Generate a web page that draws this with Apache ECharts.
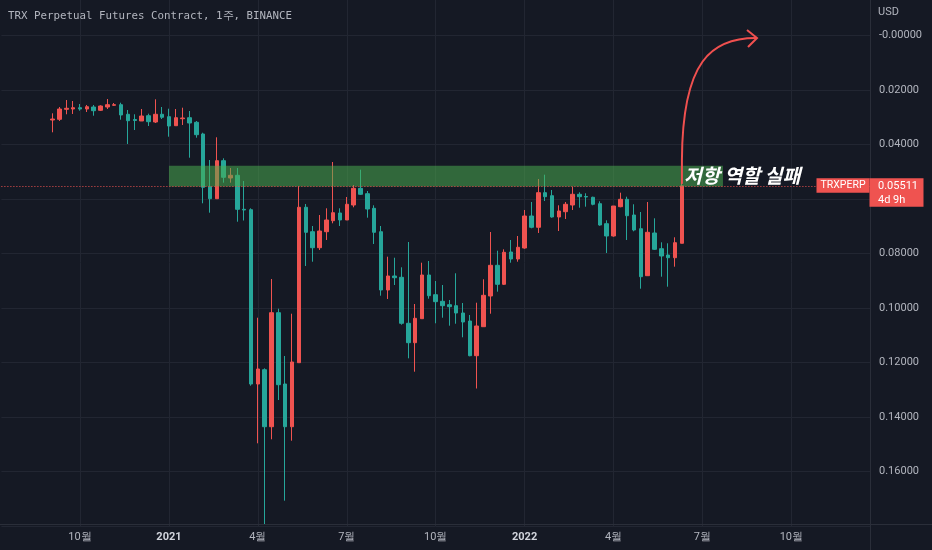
<!DOCTYPE html>
<html><head><meta charset="utf-8">
<script src="https://cdn.jsdelivr.net/npm/echarts@6/dist/echarts.min.js"></script>
<style>html,body{margin:0;padding:0;background:#151924;}#c{width:932px;height:550px;}</style>
</head><body><div id="c"></div>
<script>
// ---- data (weekly candles, TRXPERP, Binance) ----
const axisStart = '2020-07-20';   // first week shown on the time axis
const weekCount = 127;            // weeks shown on the axis
const firstCandle = '2020-09-07'; // week of first candle
const opens = [0.03094,0.03068,0.02701,0.02690,0.02642,0.02690,0.02617,0.02738,0.02617,0.02554,
0.02532,0.02884,0.03075,0.03130,0.02936,0.03167,0.02884,0.02972,0.03303,0.03046,
0.03009,0.03178,0.03607,0.05541,0.05982,0.04587,0.05222,0.05123,0.06371,0.06385,
0.12782,0.12257,0.14349,0.10165,0.12782,0.14349,0.12000,0.06297,0.07193,0.07780,
0.07193,0.06789,0.06506,0.06763,0.06213,0.05600,0.05798,0.06334,0.07193,0.09332,
0.08818,0.08866,0.10554,0.11266,0.10385,0.08782,0.09505,0.09747,0.09872,0.09908,
0.10176,0.10470,0.11743,0.10679,0.09552,0.08426,0.09123,0.07938,0.08194,0.07791,
0.06617,0.07031,0.05761,0.05872,0.06653,0.06459,0.06213,0.05820,0.05901,0.05930,
0.06165,0.06899,0.07350,0.06275,0.06004,0.06580,0.07083,0.08807,0.07240,0.07817,
0.08048,0.08147,0.07618];
const closes = [0.03057,0.02690,0.02664,0.02642,0.02690,0.02606,0.02752,0.02580,0.02532,0.02532,
0.02910,0.03119,0.03112,0.02947,0.03156,0.02884,0.02994,0.03314,0.03009,0.03020,
0.03204,0.03633,0.05563,0.05982,0.04587,0.05196,0.05123,0.06371,0.06396,0.12782,
0.12231,0.14349,0.10165,0.12807,0.14349,0.11974,0.06297,0.07215,0.07780,0.07167,
0.06763,0.06495,0.06763,0.06187,0.05600,0.05820,0.06360,0.07215,0.09332,0.08818,
0.08881,0.10554,0.11266,0.10371,0.08782,0.09541,0.09761,0.09908,0.09945,0.10176,
0.10506,0.11743,0.10653,0.09527,0.08426,0.09123,0.07949,0.08194,0.07765,0.06617,
0.07031,0.05761,0.05908,0.06653,0.06433,0.06187,0.05820,0.05908,0.05919,0.06187,
0.06947,0.07350,0.06250,0.06004,0.06606,0.07130,0.08844,0.07215,0.07839,0.08084,
0.08147,0.07596,0.05511];
const lows = [0.02848,0.02617,0.02360,0.02396,0.02506,0.02543,0.02543,0.02554,0.02323,0.02470,
0.02459,0.02727,0.02884,0.02690,0.02862,0.02334,0.02617,0.02679,0.02690,0.02642,
0.02763,0.03130,0.03560,0.04561,0.03728,0.04499,0.04855,0.04855,0.05332,0.06334,
0.10349,0.12206,0.08928,0.10018,0.11754,0.10202,0.05516,0.06176,0.06983,0.06580,
0.06334,0.04635,0.06334,0.05919,0.05479,0.04917,0.05699,0.06224,0.06983,0.08110,
0.08147,0.08499,0.07571,0.09846,0.08330,0.08268,0.09002,0.09149,0.09699,0.08719,
0.09809,0.10250,0.09798,0.08939,0.07204,0.07890,0.07839,0.07497,0.07350,0.06396,
0.06103,0.05259,0.05101,0.05662,0.06224,0.06103,0.05541,0.05747,0.05783,0.05908,
0.06077,0.06774,0.06250,0.05761,0.05908,0.06187,0.06470,0.06103,0.06701,0.07582,
0.07618,0.07398,0.05406];
const highs = [0.03545,0.03130,0.02884,0.02873,0.02752,0.02800,0.02936,0.02763,0.02690,0.02580,
0.03083,0.03974,0.03461,0.03130,0.03314,0.03204,0.03057,0.03706,0.03303,0.03277,
0.04477,0.03743,0.06150,0.06495,0.05982,0.05394,0.05394,0.06826,0.06782,0.12844,
0.14958,0.17956,0.14811,0.13369,0.17064,0.14862,0.12000,0.08451,0.08294,0.07864,
0.07497,0.06884,0.06983,0.06763,0.06297,0.05846,0.06679,0.07644,0.09541,0.09662,
0.09149,0.10606,0.11839,0.12330,0.10385,0.09651,0.10554,0.10349,0.10642,0.10569,
0.11068,0.11765,0.12947,0.10679,0.10202,0.09394,0.09149,0.08330,0.08294,0.07817,
0.07068,0.07240,0.06066,0.06679,0.07167,0.06727,0.06396,0.06312,0.06275,0.06224,
0.06972,0.07974,0.07376,0.06297,0.07497,0.07178,0.09284,0.08807,0.07864,0.08844,
0.09211,0.08477,0.07618];
const lastPrice = 0.05511;
const zoneTop = 0.0477, zoneBottom = 0.0553;
const zoneStart = '2021-01-04', zoneEnd = '2022-07-25';
const titleText = 'TRX Perpetual Futures Contract, 1주, BINANCE';
const noteText = '저항 역할 실패';
const symbolText = 'TRXPERP';
const countdownText = '4d 9h';

// ---- categories (weekly) ----
const categories = [];
const t0 = Date.parse(axisStart + 'T00:00:00Z');
for (let i = 0; i < weekCount; i++) categories.push(new Date(t0 + i * 7 * 864e5).toISOString().slice(0, 10));
const firstIdx = categories.indexOf(firstCandle);
const candleData = categories.map((c, i) => {
  const k = i - firstIdx;
  return (k >= 0 && k < opens.length) ? [opens[k], closes[k], lows[k], highs[k]] : ['-', '-', '-', '-'];
});
const isQuarterStart = v => { const m = +v.slice(5, 7), d = +v.slice(8, 10); return [1, 4, 7, 10].includes(m) && d <= 7; };
const quarterLines = categories.filter(isQuarterStart).map(v => ({ xAxis: v }));

const UP = '#26a69a', DOWN = '#ef5350', GRID = '#222632', TXT = '#b2b5be', SEP = '#2a2e39';
const chart = echarts.init(document.getElementById('c'), null, { renderer: 'canvas' });
chart.setOption({
  backgroundColor: '#151924',
  animation: false,
  grid: { left: 1.4, right: 62, top: -18.8, bottom: 23.8, outerBoundsMode: 'none' },
  xAxis: {
    type: 'category', data: categories, boundaryGap: true,
    axisLine: { show: false }, axisTick: { show: false }, splitLine: { show: false },
    axisLabel: {
      interval: (i, v) => isQuarterStart(v),
      formatter: v => { const m = +v.slice(5, 7); return m === 1 ? '{y|' + v.slice(0, 4) + '}' : m + '월'; },
      color: TXT, fontSize: 11, margin: 6, fontFamily: 'Roboto',
      rich: { y: { fontWeight: 'bold', color: '#d1d4dc', fontSize: 11, fontFamily: 'Roboto' } }
    }
  },
  yAxis: {
    type: 'value', position: 'right', inverse: true, min: -0.02, max: 0.18, interval: 0.02, scale: false,
    axisLine: { show: false }, axisTick: { show: false },
    splitLine: { lineStyle: { color: GRID, width: 1 } },
    axisLabel: {
      color: TXT, fontSize: 11, margin: 9, fontFamily: 'Roboto',
      formatter: v => (v < -0.001 || v > 0.17) ? '' : (Math.abs(v) < 1e-9 ? '-0.00000' : v.toFixed(5))
    }
  },
  series: [
    {
      type: 'line', data: [], z: 0, silent: true,
      markLine: { silent: true, z: 0, symbol: ['none', 'none'], label: { show: false },
        lineStyle: { color: GRID, type: 'solid', width: 1 }, data: quarterLines }
    },
    {
      type: 'candlestick', data: candleData, barWidth: 4, z: 2,
      itemStyle: { color: UP, color0: DOWN, borderColor: UP, borderColor0: DOWN, borderWidth: 1 },
      markLine: { silent: true, precision: 5, symbol: ['none', 'none'], label: { show: false },
        lineStyle: { color: DOWN, type: [1, 2], width: 1 }, data: [{ yAxis: lastPrice }] },
      markArea: { silent: true, z: 4, itemStyle: { color: 'rgba(76,175,80,0.53)' },
        data: [[{ xAxis: zoneStart, yAxis: zoneTop }, { xAxis: zoneEnd, yAxis: zoneBottom }]] }
    }
  ]
});

const py = chart.convertToPixel({ yAxisIndex: 0 }, lastPrice);
const lastX = chart.convertToPixel({ xAxisIndex: 0 }, categories[firstIdx + opens.length - 1]);
const ARROW = '#f0504f';
chart.setOption({
  graphic: [
    { type: 'line', z: 50, shape: { x1: 870.5, y1: 0, x2: 870.5, y2: 550 }, style: { stroke: SEP, lineWidth: 1 } },
    { type: 'line', z: 50, shape: { x1: 0, y1: 524.5, x2: 932, y2: 524.5 }, style: { stroke: SEP, lineWidth: 1 } },
    { type: 'text', z: 60, x: 8, y: 16, style: { text: titleText, fill: TXT, font: '10.8px "DejaVu Sans Mono"', verticalAlign: 'middle' } },
    { type: 'text', z: 60, x: 878, y: 12, style: { text: 'USD', fill: TXT, font: '11px Roboto', verticalAlign: 'middle' } },
    { type: 'line', z: 55, shape: { x1: lastX, y1: py - 2, x2: lastX, y2: 160 }, style: { stroke: ARROW, lineWidth: 2 } },
    { type: 'bezierCurve', z: 55, shape: { x1: lastX, y1: 160, cpx1: lastX + 0.5, cpy1: 60, cpx2: 712, cpy2: 38, x2: 756, y2: 38 },
      style: { stroke: ARROW, lineWidth: 2, fill: null } },
    { type: 'polyline', z: 55, shape: { points: [[747, 30], [757, 38], [748, 47]] }, style: { stroke: ARROW, lineWidth: 2, fill: null } },
    { type: 'text', z: 60, x: 684, y: 176, style: { text: noteText, fill: '#ffffff', font: 'italic bold 19.5px "Noto Sans CJK KR"', verticalAlign: 'middle' } },
    { type: 'rect', z: 70, shape: { x: 816.5, y: py - 7.5, width: 53, height: 14.5 }, style: { fill: DOWN } },
    { type: 'text', z: 71, x: 843, y: py, style: { text: symbolText, fill: '#ffffff', font: '10.5px Roboto', align: 'center', verticalAlign: 'middle' } },
    { type: 'rect', z: 70, shape: { x: 869.5, y: py - 7.5, width: 54, height: 28.5 }, style: { fill: DOWN } },
    { type: 'text', z: 71, x: 878, y: py + 0.5, style: { text: lastPrice.toFixed(5), fill: '#ffffff', font: '11px Roboto', verticalAlign: 'middle' } },
    { type: 'text', z: 71, x: 878, y: py + 14.5, style: { text: countdownText, fill: '#ffffff', font: '11px Roboto', verticalAlign: 'middle' } }
  ]
});
</script></body></html>
